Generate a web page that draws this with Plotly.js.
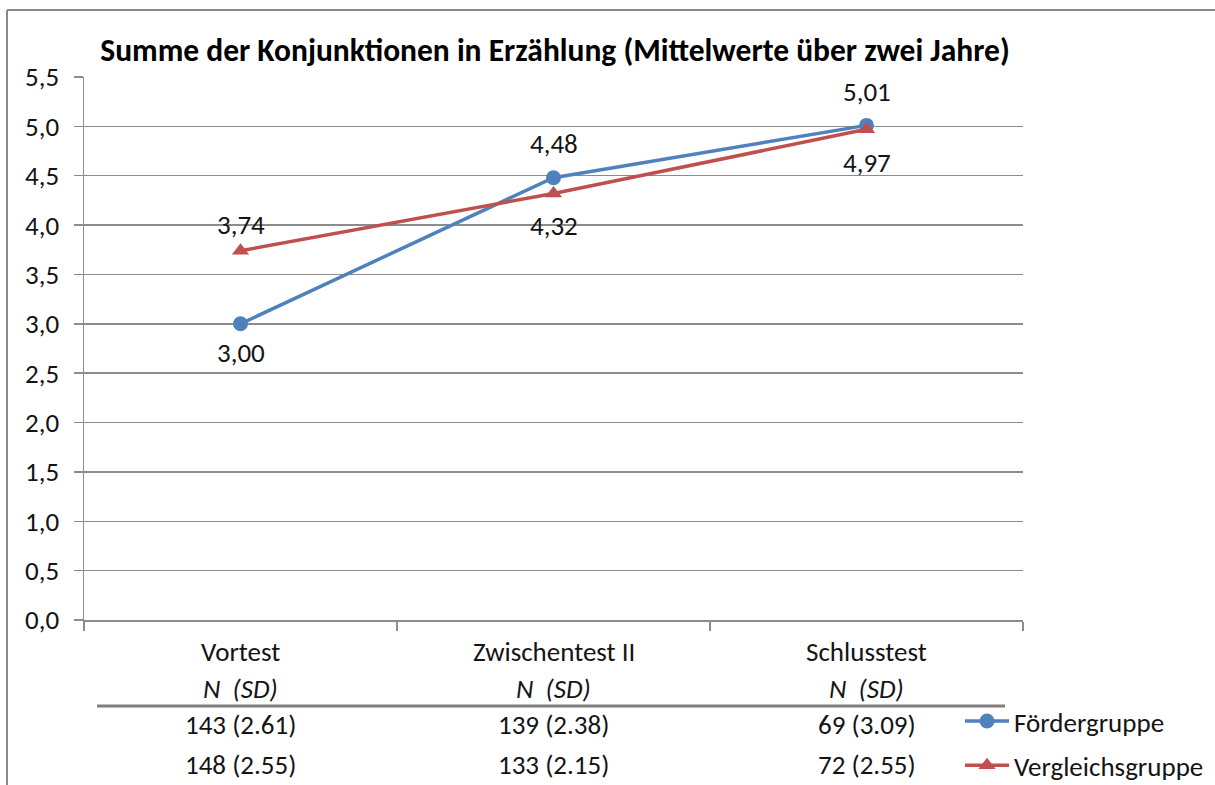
<!DOCTYPE html>
<html>
<head>
<meta charset="utf-8">
<script src="https://cdn.plot.ly/plotly-3.0.1.min.js"></script>
<style>
html,body{margin:0;padding:0;background:#fff;}
#chart{width:1215px;height:785px;}
</style>
</head>
<body>
<div id="chart"></div>
<script>
// ---- data ----
var categories = ["Vortest", "Zwischentest II", "Schlusstest"];
var seriesNames = ["Fördergruppe", "Vergleichsgruppe"];
var foerderValues = [3.00, 4.48, 5.01];
var vergleichValues = [3.74, 4.32, 4.97];
var foerderTable = ["143 (2.61)", "139 (2.38)", "69 (3.09)"];
var vergleichTable = ["148 (2.55)", "133 (2.15)", "72 (2.55)"];
var subHeader = "N  (SD)";
var titleText = "Summe der Konjunktionen in Erzählung (Mittelwerte über zwei Jahre)";
var yTickVals = [0, 0.5, 1, 1.5, 2, 2.5, 3, 3.5, 4, 4.5, 5, 5.5];

// ---- layout constants ----
var W = 1215, H = 785;
var L = 84, R = 1023, T = 77, B = 620;
var FONT = "Carlito, Calibri, 'Noto Sans', sans-serif";
var FS = 27;
var BLUE = "#4F81BD", RED = "#C0504D", GRID = "#8C8C8C", TXT = "#141414";
// label offsets (px) for data labels
var foerderShift = [-29, 34, 34];
var vergleichShift = [26, -32, -33];

function px2x(p){ return (p - L) / (R - L); }
function px2y(p){ return (B - p) / (B - T); }
function fmt(v){ return v.toFixed(2).replace(".", ","); }

var traces = [
  {
    x: categories, y: foerderValues, name: seriesNames[0], type: "scatter", mode: "lines+markers",
    line: {color: BLUE, width: 3.5}, marker: {color: BLUE, size: 15, symbol: "circle"},
    legendgroup: "a", hoverinfo: "x+y"
  },
  {
    x: categories, y: vergleichValues, name: seriesNames[1], type: "scatter", mode: "lines+markers",
    line: {color: RED, width: 3.5}, marker: {color: RED, size: 15, symbol: "triangle-up"},
    legendgroup: "b", hoverinfo: "x+y"
  }
];

var annotations = [];
categories.forEach(function(c, i){
  annotations.push({x: c, y: foerderValues[i], xref: "x", yref: "y", text: fmt(foerderValues[i]),
    showarrow: false, yshift: foerderShift[i], font: {family: FONT, size: FS, color: TXT}});
  annotations.push({x: c, y: vergleichValues[i], xref: "x", yref: "y", text: fmt(vergleichValues[i]),
    showarrow: false, yshift: vergleichShift[i], font: {family: FONT, size: FS, color: TXT}});
  annotations.push({x: c, y: px2y(651), xref: "x", yref: "paper", text: c, showarrow: false,
    yanchor: "middle", font: {family: FONT, size: FS, color: TXT}});
  annotations.push({x: c, y: px2y(688), xref: "x", yref: "paper", text: "<i>" + subHeader + "</i>", showarrow: false,
    yanchor: "middle", font: {family: FONT, size: FS, color: TXT}});
  annotations.push({x: c, y: px2y(724), xref: "x", yref: "paper", text: foerderTable[i], showarrow: false,
    yanchor: "middle", font: {family: FONT, size: FS, color: TXT}});
  annotations.push({x: c, y: px2y(765), xref: "x", yref: "paper", text: vergleichTable[i], showarrow: false,
    yanchor: "middle", font: {family: FONT, size: FS, color: TXT}});
});

var shapes = [
  // table divider
  {type: "line", xref: "paper", yref: "paper", x0: px2x(97), x1: px2x(1005), y0: px2y(706), y1: px2y(706),
   line: {color: "#7f7f7f", width: 3}},
  // outer frame (left and top)
  {type: "line", xref: "paper", yref: "paper", x0: px2x(7), x1: px2x(7), y0: px2y(10), y1: px2y(790),
   line: {color: "#8a8a8a", width: 2}},
  {type: "line", xref: "paper", yref: "paper", x0: px2x(7), x1: px2x(1220), y0: px2y(10), y1: px2y(10),
   line: {color: "#8a8a8a", width: 2}}
];

var layout = {
  width: W, height: H,
  margin: {l: L, r: W - R, t: T, b: H - B, pad: 0, autoexpand: false},
  paper_bgcolor: "#fff", plot_bgcolor: "#fff",
  separators: ",.",
  font: {family: FONT, size: FS, color: TXT},
  title: {text: "<b>" + titleText + "</b>", font: {family: FONT, size: 31.5, color: "#000"},
          x: px2x(555), xref: "paper", xanchor: "center", y: 1 - 50 / H, yref: "container", yanchor: "middle"},
  showlegend: true,
  legend: {x: px2x(960), y: px2y(697), xanchor: "left", yanchor: "top", bgcolor: "rgba(0,0,0,0)",
           font: {family: FONT, size: FS, color: TXT}, itemwidth: 44, tracegroupgap: 6, traceorder: "grouped"},
  xaxis: {type: "category", range: [-0.5, 2.5], showgrid: false, showline: true, linecolor: GRID, linewidth: 1.5,
          ticks: "outside", tickson: "boundaries", ticklen: 9, tickcolor: GRID, tickwidth: 1.5,
          showticklabels: false, zeroline: false, fixedrange: true},
  yaxis: {range: [0, 5.5], tickvals: yTickVals, tickformat: ".1f", showgrid: true, gridcolor: GRID, gridwidth: 1.5,
          showline: true, linecolor: GRID, linewidth: 1.5, ticks: "outside", ticklen: 9, tickcolor: GRID, tickwidth: 1.5,
          zeroline: false, tickfont: {family: FONT, size: FS, color: TXT}, ticklabelstandoff: 9, fixedrange: true},
  annotations: annotations,
  shapes: shapes
};

Plotly.newPlot("chart", traces, layout, {displayModeBar: false, staticPlot: true});
</script>
</body>
</html>
